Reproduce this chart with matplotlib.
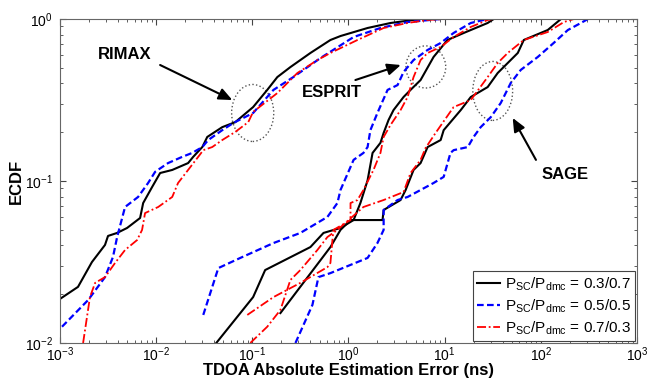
import matplotlib
matplotlib.use("Agg")
import matplotlib.pyplot as plt
from matplotlib.patches import Ellipse

plt.rcParams['font.family'] = ['Liberation Sans', 'DejaVu Sans']
plt.rcParams['mathtext.default'] = 'regular'

# RIMAX
rimax_black_x = [0.001, 0.00154, 0.00215, 0.00294, 0.00316, 0.00393, 0.00499, 0.00681, 0.00733, 0.00908, 0.0110, 0.0147, 0.0215, 0.0243, 0.0302, 0.0340, 0.0487, 0.0666, 0.102, 0.143, 0.182, 0.249, 0.402, 0.649, 0.826, 1.58, 2.74, 5.62]
rimax_black_y = [0.0187, 0.0222, 0.0316, 0.0403, 0.0458, 0.0478, 0.0513, 0.0591, 0.0731, 0.0918, 0.112, 0.117, 0.129, 0.141, 0.162, 0.187, 0.215, 0.231, 0.286, 0.365, 0.438, 0.505, 0.617, 0.742, 0.785, 0.880, 0.945, 1.0]
rimax_blue_x = [0.00105, 0.00196, 0.00294, 0.00356, 0.00393, 0.00475, 0.00649, 0.00825, 0.00977, 0.0133, 0.0187, 0.0237, 0.0302, 0.0348, 0.0487, 0.0634, 0.102, 0.166, 0.267, 0.511, 1.13, 2.15, 4.12, 9.09]
rimax_blue_y = [0.0126, 0.0184, 0.0255, 0.0340, 0.0451, 0.0691, 0.0797, 0.0972, 0.114, 0.129, 0.141, 0.149, 0.162, 0.179, 0.206, 0.228, 0.263, 0.365, 0.438, 0.574, 0.774, 0.880, 0.958, 1.0]
rimax_red_x = [0.00174, 0.00205, 0.00232, 0.00294, 0.00374, 0.00475, 0.00634, 0.00714, 0.00767, 0.0105, 0.0147, 0.0169, 0.0215, 0.0274, 0.0309, 0.0383, 0.0487, 0.0666, 0.0908, 0.102, 0.182, 0.294, 0.475, 0.649, 1.24, 2.32, 4.12, 6.65, 10.2]
rimax_red_y = [0.01, 0.0192, 0.0235, 0.0255, 0.0312, 0.0375, 0.0432, 0.0499, 0.0634, 0.0691, 0.0797, 0.0972, 0.117, 0.141, 0.155, 0.162, 0.179, 0.201, 0.231, 0.267, 0.349, 0.464, 0.558, 0.617, 0.742, 0.880, 0.945, 0.986, 1.0]

# ESPRIT
esprit_black_x = [0.0422, 0.102, 0.136, 0.402, 0.550, 0.826, 1.13, 1.33, 1.58, 1.78, 2.15, 2.32, 2.61, 2.94, 3.74, 4.42, 5.62, 7.67, 10.7, 15.8, 28.0, 32.4]
esprit_black_y = [0.01, 0.0192, 0.0282, 0.0391, 0.0478, 0.0513, 0.0574, 0.0731, 0.101, 0.149, 0.172, 0.198, 0.238, 0.274, 0.330, 0.365, 0.420, 0.583, 0.742, 0.820, 0.945, 1.0]
esprit_blue_x = [0.0309, 0.0443, 0.0750, 0.166, 0.316, 0.604, 0.767, 0.826, 1.05, 1.13, 1.43, 1.58, 1.69, 2.00, 2.55, 3.24, 3.74, 4.75, 6.65, 9.09, 12.4, 18.7, 28.0]
esprit_blue_y = [0.0149, 0.0290, 0.0335, 0.0414, 0.0478, 0.0600, 0.0731, 0.0880, 0.122, 0.135, 0.149, 0.162, 0.206, 0.263, 0.365, 0.391, 0.471, 0.558, 0.644, 0.711, 0.820, 0.945, 1.0]
esprit_red_x = [0.0887, 0.166, 0.316, 0.604, 0.649, 0.681, 0.698, 1.05, 1.05, 1.24, 1.43, 1.82, 2.15, 2.32, 2.74, 3.48, 4.12, 4.75, 5.62, 6.65, 9.09, 12.4, 18.7, 28.0, 32.0]
esprit_red_y = [0.0149, 0.0192, 0.0235, 0.0294, 0.0312, 0.0432, 0.0499, 0.0574, 0.0731, 0.0763, 0.0880, 0.117, 0.149, 0.187, 0.222, 0.274, 0.330, 0.438, 0.558, 0.617, 0.672, 0.774, 0.893, 0.986, 1.0]

# SAGE
sage_black_x = [0.196, 0.649, 0.826, 1.05, 2.26, 2.32, 3.48, 3.93, 4.75, 5.62, 6.65, 9.09, 9.77, 14.7, 18.7, 28.0, 35.6, 57.6, 66.5, 118, 162]
sage_black_y = [0.0153, 0.0391, 0.0499, 0.0574, 0.0574, 0.0662, 0.0763, 0.0880, 0.117, 0.129, 0.162, 0.179, 0.206, 0.274, 0.330, 0.380, 0.464, 0.617, 0.742, 0.855, 1.0]
sage_blue_x = [0.281, 0.422, 0.487, 0.649, 1.58, 2.00, 2.32, 2.32, 3.24, 4.12, 5.62, 7.67, 9.77, 11.5, 12.4, 17.4, 20.0, 23.7, 30.2, 38.3, 48.7, 61.9, 93.0, 136, 191, 261, 309]
sage_blue_y = [0.01, 0.0172, 0.0255, 0.0270, 0.0335, 0.0414, 0.0499, 0.0662, 0.0763, 0.0797, 0.0880, 0.0972, 0.106, 0.149, 0.155, 0.162, 0.187, 0.215, 0.248, 0.303, 0.403, 0.485, 0.583, 0.711, 0.855, 0.945, 1.0]
sage_red_x = [0.0953, 0.143, 0.196, 0.249, 0.316, 0.475, 0.604, 0.767, 1.43, 2.32, 3.74, 4.42, 5.62, 6.34, 8.05, 12.4, 18.7, 28.0, 35.6, 45.3, 66.5, 118, 174, 221]
sage_red_y = [0.01, 0.0126, 0.0160, 0.0245, 0.0282, 0.0375, 0.0451, 0.0499, 0.0691, 0.0763, 0.0855, 0.112, 0.135, 0.160, 0.198, 0.286, 0.316, 0.438, 0.535, 0.617, 0.742, 0.831, 0.958, 1.0]

legend_labels = ['P$_{SC}$/P$_{dmc}$ = 0.3/0.7',
                 'P$_{SC}$/P$_{dmc}$ = 0.5/0.5',
                 'P$_{SC}$/P$_{dmc}$ = 0.7/0.3']

black_style = dict(color='black', lw=1.5, ls='-')
blue_style = dict(color='#0000ff', lw=1.6, ls=(0, (3, 1.5)))
red_style = dict(color='#ff0000', lw=1.3, ls=(0, (5, 1.5, 1, 1.5)))

fig = plt.figure(figsize=(6.59, 3.80), dpi=100)
ax = fig.add_axes([0.091, 0.0974, 0.8756, 0.8526])

ax.plot(rimax_black_x, rimax_black_y, label=legend_labels[0], **black_style)
ax.plot(rimax_blue_x, rimax_blue_y, label=legend_labels[1], **blue_style)
ax.plot(rimax_red_x, rimax_red_y, label=legend_labels[2], **red_style)
for bx, by in [(esprit_black_x, esprit_black_y), (sage_black_x, sage_black_y)]:
    ax.plot(bx, by, **black_style)
for bx, by in [(esprit_blue_x, esprit_blue_y), (sage_blue_x, sage_blue_y)]:
    ax.plot(bx, by, **blue_style)
for bx, by in [(esprit_red_x, esprit_red_y), (sage_red_x, sage_red_y)]:
    ax.plot(bx, by, **red_style)

ax.set_xscale('log')
ax.set_yscale('log')
ax.set_xlim(1e-3, 1e3)
ax.set_ylim(1e-2, 1)
ax.tick_params(which='both', direction='in', top=True, right=True, colors='#444444', labelcolor='black', labelsize=10)
ax.tick_params(which='major', length=4)
ax.tick_params(which='minor', length=2)
ax.tick_params(axis='x', which='major', pad=2)
ax.tick_params(axis='y', which='major', pad=5)
for s in ax.spines.values():
    s.set_color('#666666')
    s.set_linewidth(0.8)

ax.set_xlabel('TDOA Absolute Estimation Error (ns)', fontsize=12, fontweight='bold', labelpad=-1)
ax.set_ylabel('ECDF', fontsize=12, fontweight='bold', labelpad=1)

# ellipses (axes fraction)
for cx, cy, w, h in [(0.334, 0.710, 0.073, 0.176), (0.634, 0.852, 0.069, 0.130), (0.750, 0.778, 0.069, 0.182)]:
    ax.add_patch(Ellipse((cx, cy), w, h, transform=ax.transAxes, fill=False,
                         ec='#555555', ls=':', lw=1.0))

arrow = dict(arrowstyle='-|>,head_length=0.8,head_width=0.35', color='black', lw=1.5, shrinkA=0, shrinkB=0)
ax.annotate('', xy=(0.062, 0.316), xytext=(0.011, 0.52), arrowprops=arrow)
ax.annotate('', xy=(3.5, 0.52), xytext=(1.18, 0.42), arrowprops=arrow)
ax.annotate('', xy=(51, 0.245), xytext=(89, 0.135), arrowprops=arrow)
ax.text(0.00475, 0.60, 'RIMAX', fontsize=12, fontweight='bold', ha='center', va='center')
ax.text(0.68, 0.35, 'ESPRIT', fontsize=12, fontweight='bold', ha='center', va='center')
ax.text(178, 0.109, 'SAGE', fontsize=12, fontweight='bold', ha='center', va='center')

leg = ax.legend(loc='lower right', fontsize=11, fancybox=False, framealpha=1,
                edgecolor='#444444', borderaxespad=0.1, handlelength=1.5,
                handletextpad=0.3, borderpad=0.3, labelspacing=0.3)
leg.get_frame().set_linewidth(0.8)

fig.savefig('out.png', dpi=100)
